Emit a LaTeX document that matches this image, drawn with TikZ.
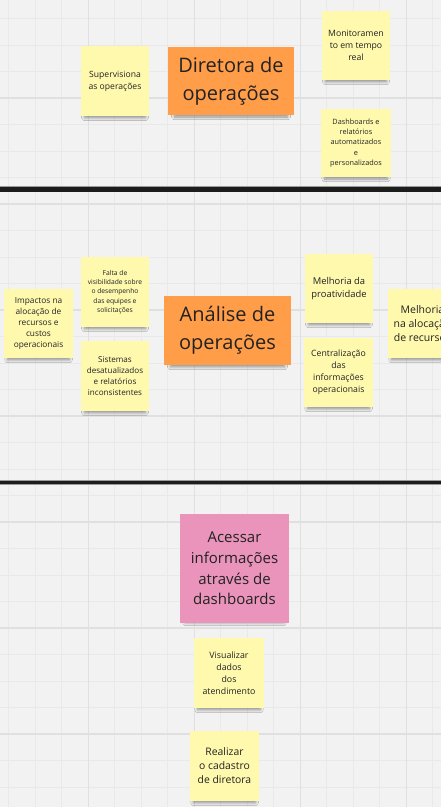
\documentclass[tikz,border=0pt]{standalone}
\usepackage{fontspec}
\setmainfont{Open Sans}
\usetikzlibrary{shadows.blur}
\definecolor{bg}{HTML}{F2F2F2}
\definecolor{gridminor}{HTML}{E9E9E9}
\definecolor{gridmajor}{HTML}{E0E0E0}
\definecolor{stickyyellow}{HTML}{FFF9AE}
\definecolor{stickyorange}{HTML}{FF9D48}
\definecolor{stickypink}{HTML}{EA94BB}
\definecolor{txt}{HTML}{222222}
\definecolor{divider}{HTML}{1C1C1C}
\definecolor{divedge}{HTML}{9A9A9A}
\tikzset{
  note/.style={rectangle, inner sep=0pt, align=center, text=txt,
    blur shadow={shadow xshift=0pt, shadow yshift=-6pt, shadow scale=0.9,
      shadow blur radius=3pt, shadow blur steps=8, shadow opacity=40}},
  yellownote/.style={note, fill=stickyyellow},
  orangenote/.style={note, fill=stickyorange},
  pinknote/.style={note, fill=stickypink},
  minorline/.style={draw=gridminor, line width=0.8pt},
  majorline/.style={draw=gridmajor, line width=1.3pt},
}
\begin{document}
\begin{tikzpicture}[x=1pt, y=-1pt]
\useasboundingbox (0,0) rectangle (441,807);
\clip (0,0) rectangle (441,807);
\fill[bg] (0,0) rectangle (441,807);
% grid
\foreach \i in {0,...,16} {
  \pgfmathsetmacro{\gx}{8.5+26.5*\i}
  \draw[minorline] (\gx,0) -- (\gx,807);
}
\foreach \i in {0,...,30} {
  \pgfmathsetmacro{\gy}{18.5+26.5*\i}
  \draw[minorline] (0,\gy) -- (441,\gy);
}
\foreach \i in {0,...,3} {
  \pgfmathsetmacro{\gx}{88.5+106*\i}
  \draw[majorline] (\gx,0) -- (\gx,807);
}
\foreach \i in {0,...,7} {
  \pgfmathsetmacro{\gy}{98+106*\i}
  \draw[majorline] (0,\gy) -- (441,\gy);
}
% dividers
\fill[divedge] (0,185.8) rectangle (441,187);
\fill[divider] (0,187) rectangle (441,192);
\fill[divedge] (0,479.8) rectangle (441,480.6);
\fill[divider] (0,480.6) rectangle (441,483.6);
\fill[divedge] (0,483.6) rectangle (441,484.4);

% section 1
\node[yellownote, minimum width=68pt, minimum height=70pt, font=\fontsize{8.6}{12}\selectfont] (sup) at (115,81) {Supervisiona\\as operações};
\node[orangenote, minimum width=126pt, minimum height=68pt, font=\fontsize{20}{28}\selectfont] (dir) at (231,81) {Diretora de\\operações};
\node[yellownote, minimum width=68pt, minimum height=69pt, font=\fontsize{8.7}{12.2}\selectfont] (mon) at (356,45.5) {Monitoramen\\to em tempo\\real};
\node[yellownote, minimum width=70pt, minimum height=68pt, font=\fontsize{7.3}{10.4}\selectfont] (dash) at (356,143) {Dashboards e\\relatórios\\automatizados\\e\\personalizados};

% section 2
\node[yellownote, minimum width=69pt, minimum height=69pt, font=\fontsize{8.3}{11}\selectfont] (imp) at (38.5,323.5) {Impactos na\\alocação de\\recursos e\\custos\\operacionais};
\node[yellownote, minimum width=68pt, minimum height=70pt, font=\fontsize{6.7}{9.3}\selectfont] (falta) at (115,292) {Falta de\\visibilidade sobre\\o desempenho\\das equipes e\\solicitações};
\node[yellownote, minimum width=68pt, minimum height=70pt, font=\fontsize{8.1}{11}\selectfont] (sist) at (115,376) {Sistemas\\desatualizados\\e relatórios\\inconsistentes};
\node[orangenote, minimum width=127pt, minimum height=69pt, font=\fontsize{20}{28}\selectfont] (ana) at (227.5,330.5) {Análise de\\operações};
\node[yellownote, minimum width=68pt, minimum height=69pt, font=\fontsize{9.4}{12.7}\selectfont] (proat) at (339,288.5) {Melhoria da\\proatividade};
\node[yellownote, minimum width=69pt, minimum height=69pt, font=\fontsize{8.7}{12}\selectfont] (cent) at (338.5,372.5) {Centralização\\das\\informações\\operacionais};
\node[yellownote, minimum width=69pt, minimum height=69pt, font=\fontsize{10.5}{14}\selectfont] (melh) at (422.5,323.5) {Melhoria\\na alocação\\de recursos};

% section 3
\node[pinknote, minimum width=109pt, minimum height=109pt, font=\fontsize{15}{20.7}\selectfont] (aces) at (234.5,568.5) {Acessar\\informações\\através de\\dashboards};
\node[yellownote, minimum width=70pt, minimum height=70pt, font=\fontsize{8.8}{12}\selectfont] (vis) at (229,673) {Visualizar\\dados\\dos\\atendimento};
\node[yellownote, minimum width=69pt, minimum height=70pt, font=\fontsize{10.4}{14}\selectfont] (real) at (224.5,766) {Realizar\\o cadastro\\de diretora};
\end{tikzpicture}
\end{document}
